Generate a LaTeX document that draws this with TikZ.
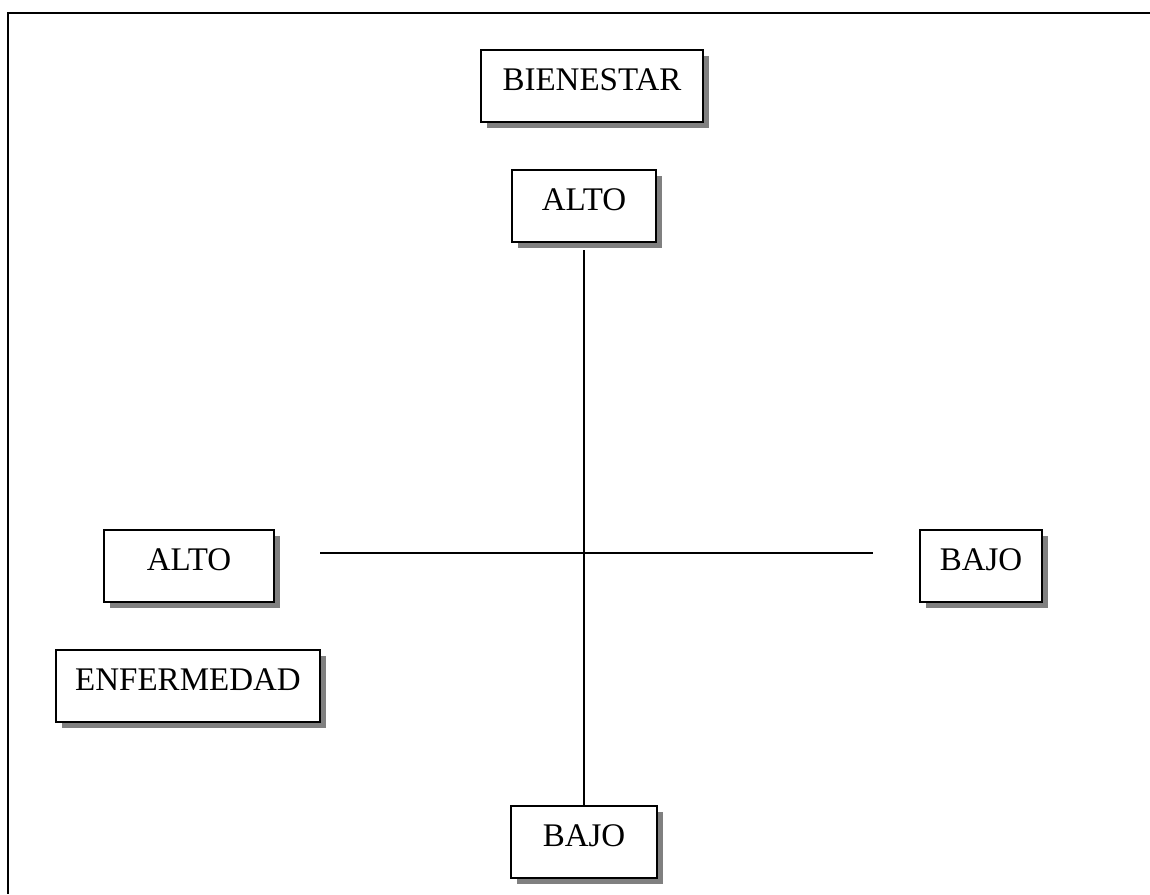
\documentclass[tikz,border=0pt]{standalone}
\usepackage{fontspec}
\setmainfont{Liberation Serif}
\usetikzlibrary{shadows}
\tikzset{
  box/.style={draw=black, line width=2pt, fill=white, inner sep=0pt,
    font=\fontsize{33}{36}\selectfont, text depth=12pt,
    drop shadow={shadow xshift=6pt, shadow yshift=-6pt, fill=black!50, opacity=1}},
  axis/.style={draw=black, line width=2pt}
}
\begin{document}
\begin{tikzpicture}[x=1pt,y=-1pt]
\useasboundingbox (0,0) rectangle (1150,894);
\draw[line width=2pt] (1150,13) -- (8,13) -- (8,894);
\node[box, minimum width=222pt, minimum height=72pt] (bien) at (592,86) {BIENESTAR};
\node[box, minimum width=144pt, minimum height=72pt] (altot) at (584,206) {ALTO};
\node[box, minimum width=146pt, minimum height=72pt] (bajob) at (584,842) {BAJO};
\node[box, minimum width=170pt, minimum height=72pt] (altol) at (189,566) {ALTO};
\node[box, minimum width=122pt, minimum height=72pt] (bajor) at (981,566) {BAJO};
\node[box, minimum width=264pt, minimum height=72pt] (enf) at (188,686) {ENFERMEDAD};
\coordinate (hl) at (320,553);
\coordinate (hr) at (873,553);
\draw[axis] ([yshift=-7pt]altot.south) -- (bajob.north);
\draw[axis] (hl) -- (hr);
\end{tikzpicture}
\end{document}
